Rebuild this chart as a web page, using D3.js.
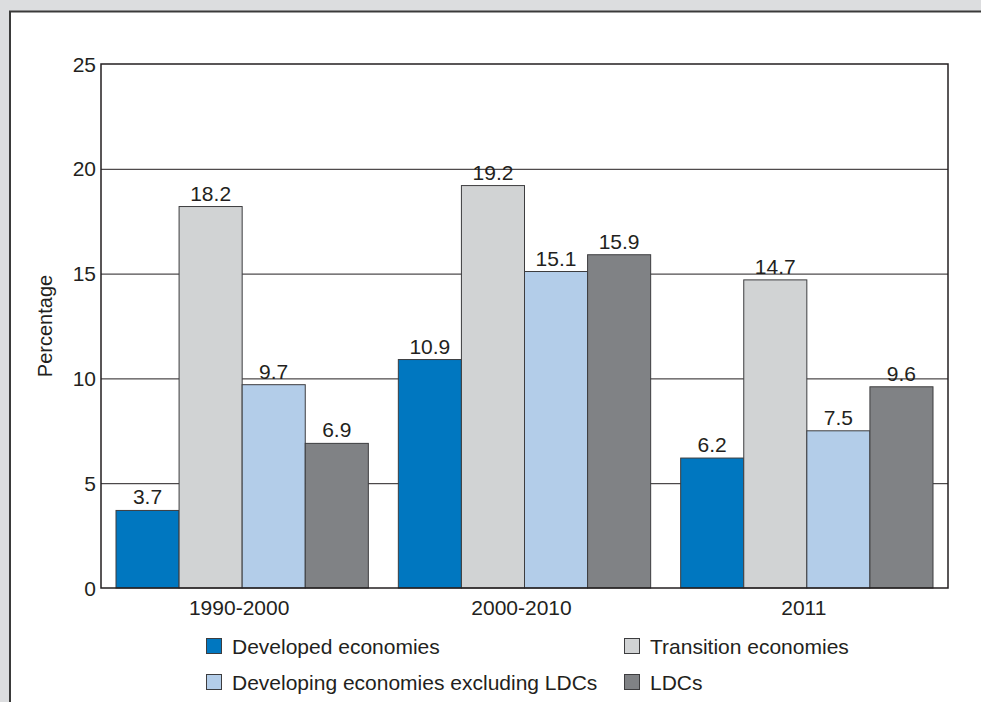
<!DOCTYPE html>
<html>
<head>
<meta charset="utf-8">
<script src="https://cdn.jsdelivr.net/npm/d3@7"></script>
<style>
  body { margin: 0; background: #dcdddf; }
  svg { display: block; }
  text { font-family: "Liberation Sans", Arial, sans-serif; fill: #231f20; }
</style>
</head>
<body>
<div class="canva"></div>
<script>
// chart data
var periods = ["1990-2000", "2000-2010", "2011"];
var seriesNames = ["Developed economies", "Transition economies", "Developing economies excluding LDCs", "LDCs"];
var developed = [3.7, 10.9, 6.2];
var transition = [18.2, 19.2, 14.7];
var developing = [9.7, 15.1, 7.5];
var ldcs = [6.9, 15.9, 9.6];
var yTicks = [0, 5, 10, 15, 20, 25];
var colors = ["#0077c0", "#d1d3d4", "#b3cde9", "#808285"];

var allSeries = [developed, transition, developing, ldcs];

const svg = d3.select(".canva").append("svg")
              .attr("width", 981)
              .attr("height", 702);

// white panel with dark left/top edge
svg.append("rect")
   .attr("x", 10).attr("y", 11.5)
   .attr("width", 990).attr("height", 720)
   .attr("fill", "white")
   .attr("stroke", "#3a3a3a")
   .attr("stroke-width", 2);

const plotLeft = 101, plotRight = 948, plotTop = 64, plotBottom = 588;

const y = d3.scaleLinear().domain([0, 25]).range([plotBottom, plotTop]);
const x0 = d3.scaleBand().domain(periods).range([plotLeft, plotRight]);
const x1 = d3.scaleBand().domain(d3.range(seriesNames.length))
           .range([15, x0.bandwidth() - 15]);

// gridlines
svg.append("g").selectAll("line")
   .data(yTicks.slice(1, -1))
   .enter().append("line")
   .attr("x1", plotLeft).attr("x2", plotRight)
   .attr("y1", d => y(d) + 0.5).attr("y2", d => y(d) + 0.5)
   .attr("stroke", "#231f20")
   .attr("stroke-width", 1);

// y tick labels
svg.append("g").selectAll("text")
   .data(yTicks)
   .enter().append("text")
   .attr("x", 96)
   .attr("y", d => y(d))
   .attr("dy", "0.36em")
   .attr("text-anchor", "end")
   .attr("font-size", "21px")
   .text(d => d);

svg.append("text")
   .attr("transform", "translate(52," + ((plotTop + plotBottom) / 2) + ") rotate(-90)")
   .attr("text-anchor", "middle")
   .attr("font-size", "20px")
   .text("Percentage");

// bars
var groups = svg.append("g").selectAll("g")
   .data(periods)
   .enter().append("g")
   .attr("transform", d => "translate(" + x0(d) + ",0)");

groups.selectAll("rect")
   .data((p, i) => allSeries.map((s, k) => ({ k: k, v: s[i] })))
   .enter().append("rect")
   .attr("x", d => x1(d.k))
   .attr("y", d => y(d.v))
   .attr("width", x1.bandwidth())
   .attr("height", d => plotBottom - y(d.v))
   .attr("fill", d => colors[d.k])
   .attr("stroke", "#3d3d3f")
   .attr("stroke-width", 1);

groups.selectAll("text")
   .data((p, i) => allSeries.map((s, k) => ({ k: k, v: s[i] })))
   .enter().append("text")
   .attr("x", d => x1(d.k) + x1.bandwidth() / 2)
   .attr("y", d => y(d.v) - 6)
   .attr("text-anchor", "middle")
   .attr("font-size", "21px")
   .text(d => d.v.toFixed(1));

// plot frame
svg.append("rect")
   .attr("x", plotLeft).attr("y", plotTop)
   .attr("width", plotRight - plotLeft).attr("height", plotBottom - plotTop)
   .attr("fill", "none")
   .attr("stroke", "#231f20")
   .attr("stroke-width", 1.5);

// x labels
svg.append("g").selectAll("text")
   .data(periods)
   .enter().append("text")
   .attr("x", d => x0(d) + x0.bandwidth() / 2 - 3)
   .attr("y", 615)
   .attr("text-anchor", "middle")
   .attr("font-size", "21px")
   .text(d => d);

// legend
var legendPos = [[206, 646], [624, 646], [206, 682], [624, 682]];
var legend = svg.append("g").selectAll("g")
   .data(seriesNames)
   .enter().append("g")
   .attr("transform", (d, i) => "translate(" + legendPos[i][0] + "," + legendPos[i][1] + ")");

legend.append("rect")
   .attr("x", 0.5).attr("y", -7.5)
   .attr("width", 15).attr("height", 15)
   .attr("fill", (d, i) => colors[i])
   .attr("stroke", "#3d3d3f")
   .attr("stroke-width", 1);

legend.append("text")
   .attr("x", 26)
   .attr("y", 0)
   .attr("dy", "0.36em")
   .attr("font-size", "21px")
   .text(d => d);
</script>
</body>
</html>
